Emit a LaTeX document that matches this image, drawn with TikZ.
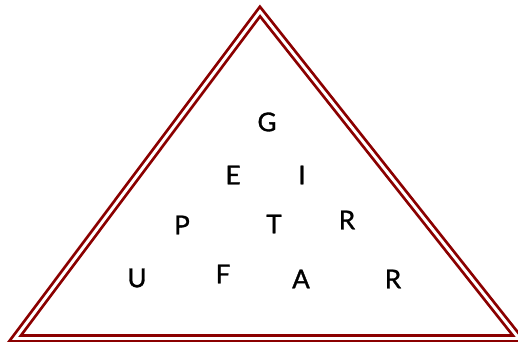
\documentclass[tikz,border=0pt]{standalone}
\usepackage{fontspec}
\setmainfont{Lato}
\newfontfamily\ltrfont[FakeBold=1.2]{Lato}
\definecolor{tri}{RGB}{139,0,0}
\begin{document}
\begin{tikzpicture}[x=0.75pt,y=-0.75pt,
  ltr/.style={font=\ltrfont\fontsize{19.5}{19.5}\selectfont, text=black, inner sep=0pt}]
\useasboundingbox (0,0) rectangle (518,342);
\coordinate (top) at (260,11.5);
\coordinate (bl) at (15,338.5);
\coordinate (br) at (519,338.5);
\draw[tri, line width=2.1pt, double=white, double distance=2.2pt, line join=miter] (top) -- (bl) -- (br) -- cycle;
\node[ltr] (g) at (267,122) {G};
\node[ltr] (e) at (233,175) {E};
\node[ltr] (i) at (302,175) {I};
\node[ltr] (p) at (182,225) {P};
\node[ltr] (t) at (274,224) {T};
\node[ltr] (r1) at (347,220) {R};
\node[ltr] (u) at (137,278) {U};
\node[ltr] (f) at (223,274) {F};
\node[ltr] (a) at (301,279) {A};
\node[ltr] (r2) at (393,279) {R};
\end{tikzpicture}
\end{document}
